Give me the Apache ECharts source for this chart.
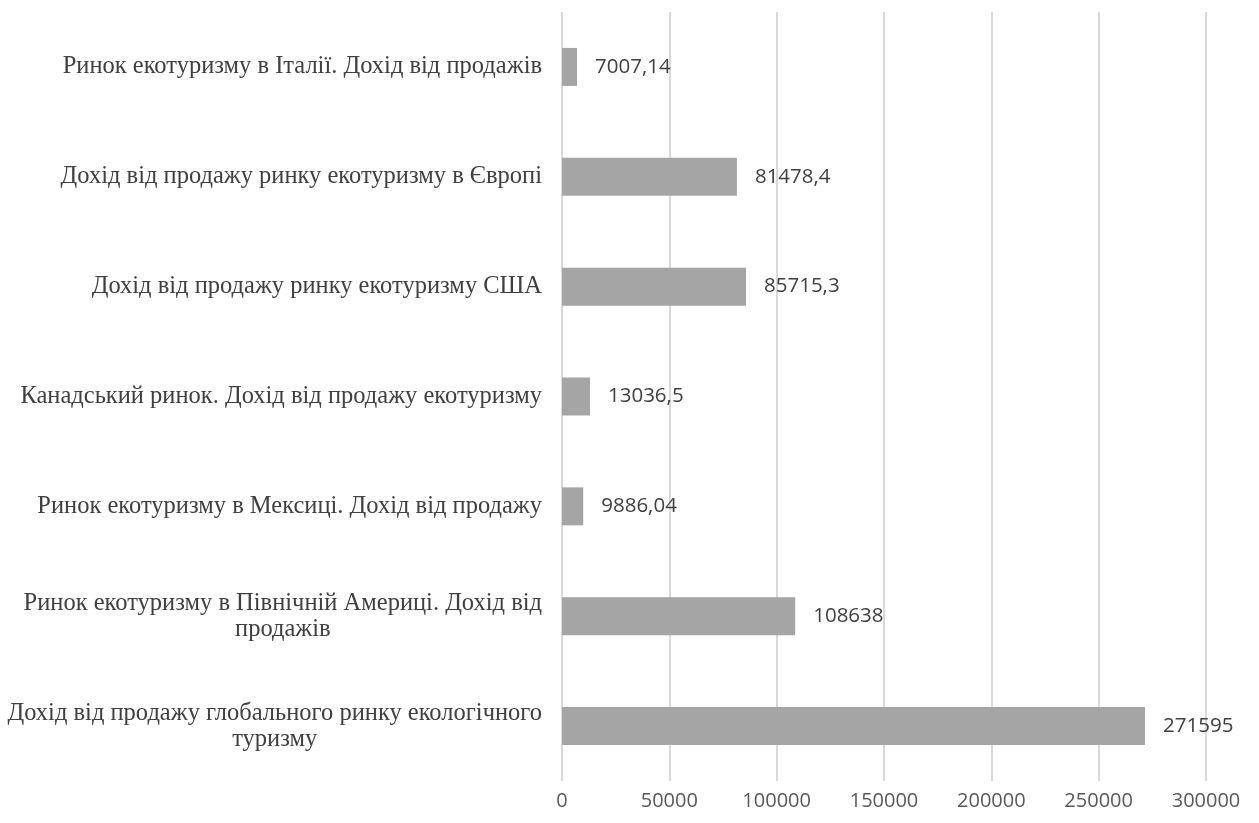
<!DOCTYPE html>
<html>
<head>
<meta charset="utf-8">
<script src="https://cdn.jsdelivr.net/npm/echarts@6/dist/echarts.min.js"></script>
<style>
html,body{margin:0;padding:0;background:#fff;}
#chart{width:1259px;height:823px;}
</style>
</head>
<body>
<div id="chart"></div>
<script>
const categories = [
  "Дохід від продажу глобального ринку екологічного\nтуризму",
  "Ринок екотуризму в Північній Америці. Дохід від\nпродажів",
  "Ринок екотуризму в Мексиці. Дохід від продажу",
  "Канадський ринок. Дохід від продажу екотуризму",
  "Дохід від продажу ринку екотуризму США",
  "Дохід від продажу ринку екотуризму в Європі",
  "Ринок екотуризму в Італії. Дохід від продажів"
];
const values = [271595, 108638, 9886.04, 13036.5, 85715.3, 81478.4, 7007.14];
const axisMin = 0, axisMax = 300000, axisStep = 50000;

const chart = echarts.init(document.getElementById('chart'), null, {renderer: 'canvas'});
chart.setOption({
  backgroundColor: '#ffffff',
  animation: false,
  grid: {left: 562, right: 53, top: 12, bottom: 42, containLabel: false, outerBoundsMode: 'none'},
  xAxis: {
    type: 'value', min: axisMin, max: axisMax, interval: axisStep,
    axisLine: {show: false}, axisTick: {show: false},
    splitLine: {show: true, lineStyle: {color: '#d9d9d9', width: 2}},
    axisLabel: {color: '#595959', fontFamily: 'Open Sans', fontSize: 20, margin: 10,
      formatter: v => String(v)}
  },
  yAxis: {
    type: 'category', data: categories,
    axisLine: {show: false}, axisTick: {show: false},
    axisLabel: {
      margin: 20,
      formatter: function (v) { return v.split('\n').map(s => '{c|' + s + '}').join('\n'); },
      rich: {c: {align: 'center', fontFamily: 'Liberation Serif', fontSize: 24.5, color: '#404040', lineHeight: 26}}
    }
  },
  series: [{
    type: 'bar', data: values, barWidth: 38,
    itemStyle: {color: '#a5a5a5'},
    label: {
      show: true, position: 'right', distance: 18,
      color: '#404040', fontFamily: 'Open Sans', fontSize: 20.5,
      formatter: p => String(p.value).replace('.', ',')
    }
  }]
});
</script>
</body>
</html>
